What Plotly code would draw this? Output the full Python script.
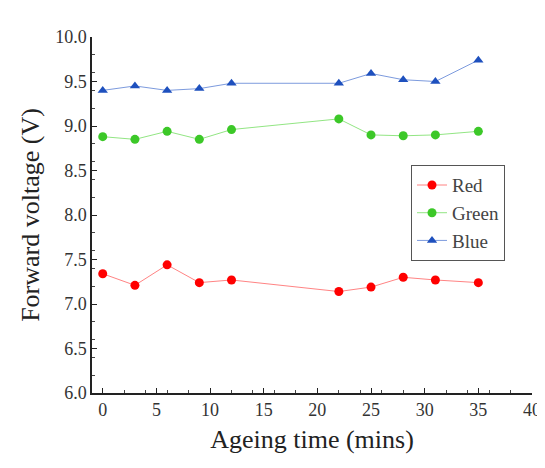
import plotly.graph_objects as go

ageing_time = [0, 3, 6, 9, 12, 22, 25, 28, 31, 35]
red_v = [7.34, 7.21, 7.44, 7.24, 7.27, 7.14, 7.19, 7.30, 7.27, 7.24]
green_v = [8.88, 8.85, 8.94, 8.85, 8.96, 9.08, 8.90, 8.89, 8.90, 8.94]
blue_v = [9.40, 9.45, 9.40, 9.42, 9.48, 9.48, 9.59, 9.52, 9.50, 9.74]

x_ticks = [0, 5, 10, 15, 20, 25, 30, 35, 40]
y_ticks = [6.0, 6.5, 7.0, 7.5, 8.0, 8.5, 9.0, 9.5, 10.0]

FONT = "Liberation Serif, serif"

fig = go.Figure()
series = [
    ("Red", red_v, "rgba(255,0,0,1)", "rgba(255,90,90,0.75)", "circle"),
    ("Green", green_v, "rgba(60,200,40,1)", "rgba(110,220,90,0.75)", "circle"),
    ("Blue", blue_v, "rgba(30,80,190,1)", "rgba(80,120,210,0.75)", "triangle-up"),
]
for name, vals, mcol, lcol, sym in series:
    fig.add_trace(go.Scatter(
        x=ageing_time, y=vals, name=name, mode="lines+markers",
        line=dict(color=lcol, width=1),
        marker=dict(color=mcol, size=9, symbol=sym),
    ))

axis_common = dict(
    showline=True, linecolor="#222", linewidth=1.5, ticks="inside",
    ticklen=5, tickcolor="#222", showgrid=False, zeroline=False, mirror=False,
    tickfont=dict(family=FONT, size=18, color="#333"),
    minor=dict(ticks="inside", ticklen=3, tickcolor="#444"),
)

fig.update_xaxes(
    range=[-1, 40], tickvals=x_ticks, ticktext=[str(v) for v in x_ticks],
    title=dict(text="Ageing time (mins)", font=dict(family=FONT, size=26, color="#222"), standoff=10),
    **axis_common,
)
fig.update_yaxes(
    range=[6.0, 10.0], tickvals=y_ticks, ticktext=[f"{v:.1f}" for v in y_ticks],
    title=dict(text="Forward voltage (V)", font=dict(family=FONT, size=26, color="#222"), standoff=8),
    **axis_common,
)

fig.update_layout(
    width=545, height=468,
    margin=dict(l=84, r=18, t=29, b=83),
    plot_bgcolor="white", paper_bgcolor="white",
    font=dict(family=FONT, color="#333"),
    legend=dict(
        x=0.725, y=0.64, xanchor="left", yanchor="top",
        bordercolor="#555", borderwidth=1, bgcolor="white",
        font=dict(family=FONT, size=19, color="#444"),
        tracegroupgap=0,
    ),
    showlegend=True,
)

fig.write_html("out.html")
